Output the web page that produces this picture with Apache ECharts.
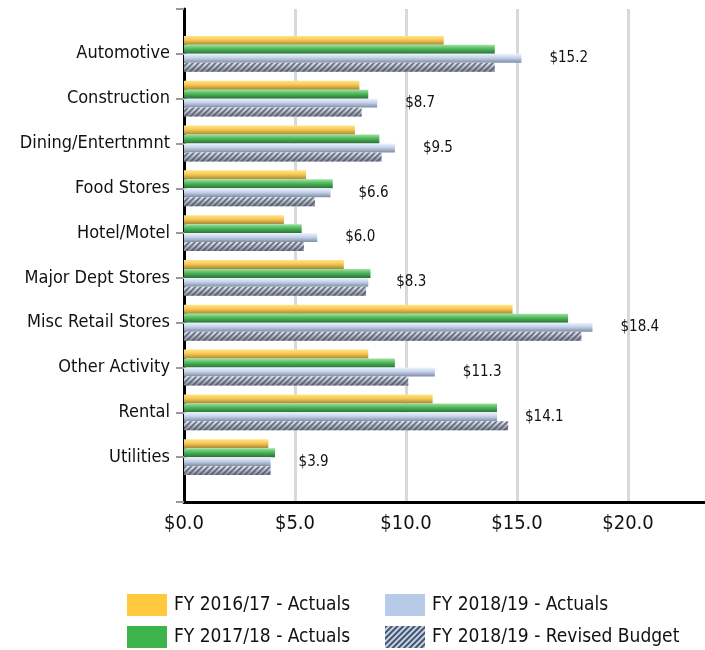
<!DOCTYPE html>
<html>
<head>
<meta charset="utf-8">
<script src="https://cdn.jsdelivr.net/npm/echarts@6/dist/echarts.min.js"></script>
<style>
  html, body { margin: 0; padding: 0; background: #fff; }
  #chart { width: 705px; height: 650px; }
</style>
</head>
<body>
<div id="chart"></div>
<script>
// categories, top to bottom
var categories = ['Automotive', 'Construction', 'Dining/Entertnmnt', 'Food Stores', 'Hotel/Motel',
    'Major Dept Stores', 'Misc Retail Stores', 'Other Activity', 'Rental', 'Utilities'];
var seriesNames = ['FY 2016/17 - Actuals', 'FY 2017/18 - Actuals', 'FY 2018/19 - Actuals', 'FY 2018/19 - Revised Budget'];
var fy1617 = [11.7, 7.9, 7.7, 5.5, 4.5, 7.2, 14.8, 8.3, 11.2, 3.8];
var fy1718 = [14.0, 8.3, 8.8, 6.7, 5.3, 8.4, 17.3, 9.5, 14.1, 4.1];
var fy1819 = [15.2, 8.7, 9.5, 6.6, 6.0, 8.3, 18.4, 11.3, 14.1, 3.9];
var budget = [14.0, 8.0, 8.9, 5.9, 5.4, 8.2, 17.9, 10.1, 14.6, 3.9];
var xTicks = [0, 5, 10, 15, 20];

var FONT = '"DejaVu Sans Condensed", Roboto, sans-serif';

// empty slot above and below, so the axis runs past the first/last group
function pad(arr, v) { return [v].concat(arr, [v]); }

function grad(top, mid, bottom) {
    return new echarts.graphic.LinearGradient(0, 0, 0, 1, [
        {offset: 0, color: top},
        {offset: 0.45, color: mid},
        {offset: 1, color: bottom}
    ]);
}

var hatch = {
    symbol: 'rect',
    symbolSize: 1,
    dashArrayX: [[1, 0]],
    dashArrayY: [2, 2],
    rotation: -Math.PI / 4,
    color: 'rgba(70,76,92,0.7)'
};

var myChart = echarts.init(document.getElementById('chart'));

var legendText = {fontFamily: FONT, fontSize: 19, color: '#111', padding: [0, 0, 0, 2]};

var option = {
    animation: false,
    textStyle: {fontFamily: FONT},
    // plot runs past the right edge (cropped like the original)
    grid: {left: 184, width: 555, top: 9, bottom: 148, containLabel: false, outerBoundsMode: 'none'},
    legend: [
        {
            orient: 'vertical', left: 127, top: 594, padding: 0,
            itemWidth: 40, itemHeight: 22, itemGap: 10, icon: 'rect',
            textStyle: legendText,
            data: [
                {name: seriesNames[0], itemStyle: {color: '#ffc83d'}},
                {name: seriesNames[1], itemStyle: {color: '#3cb44b'}}
            ]
        },
        {
            orient: 'vertical', left: 385, top: 594, padding: 0,
            itemWidth: 40, itemHeight: 22, itemGap: 10, icon: 'rect',
            textStyle: legendText,
            data: [
                {name: seriesNames[2], itemStyle: {color: '#b7cbe9'}},
                {name: seriesNames[3], itemStyle: {color: '#c4d2ea', decal: {
                    symbol: 'rect', symbolSize: 1, dashArrayX: [[1, 0]], dashArrayY: [2, 2],
                    rotation: -Math.PI / 4, color: '#44546a'}}}
            ]
        }
    ],
    xAxis: {
        type: 'value',
        min: 0,
        max: 25,
        interval: 5,
        axisLine: {show: true, lineStyle: {color: '#000', width: 3}},
        axisTick: {show: false},
        splitLine: {show: true, lineStyle: {color: '#d9d9d9', width: 3}},
        axisLabel: {
            margin: 12,
            fontSize: 20,
            color: '#111',
            fontFamily: FONT,
            formatter: function (v) { return xTicks.indexOf(v) >= 0 ? '$' + v.toFixed(1) : ''; }
        }
    },
    yAxis: {
        type: 'category',
        inverse: true,
        boundaryGap: false,
        data: pad(categories, ''),
        axisLine: {show: true, lineStyle: {color: '#000', width: 3}},
        axisTick: {show: true, length: 8, lineStyle: {color: '#999', width: 2}},
        splitLine: {show: false},
        axisLabel: {margin: 14, fontSize: 18, color: '#111', fontFamily: FONT}
    },
    series: [
        {
            name: seriesNames[0], type: 'bar', barGap: '0%', barCategoryGap: '20%',
            data: pad(fy1617, '-'),
            itemStyle: {color: grad('#ffe48e', '#f7c84e', '#a8863c')}
        },
        {
            name: seriesNames[1], type: 'bar',
            data: pad(fy1718, '-'),
            itemStyle: {color: grad('#9ee29e', '#4cb85a', '#2c6f38')}
        },
        {
            name: seriesNames[2], type: 'bar',
            data: pad(fy1819, '-'),
            itemStyle: {color: grad('#eef3fb', '#c3d2ea', '#7f8ca4')},
            label: {
                show: true, position: 'right', distance: 28,
                fontFamily: FONT, fontSize: 15, color: '#111',
                formatter: function (p) { return '$' + p.value.toFixed(1); }
            }
        },
        {
            name: seriesNames[3], type: 'bar',
            data: pad(budget, '-'),
            itemStyle: {color: grad('#e6eaf2', '#bac2d0', '#7e8698'), decal: hatch}
        }
    ]
};

myChart.setOption(option);
</script>
</body>
</html>
